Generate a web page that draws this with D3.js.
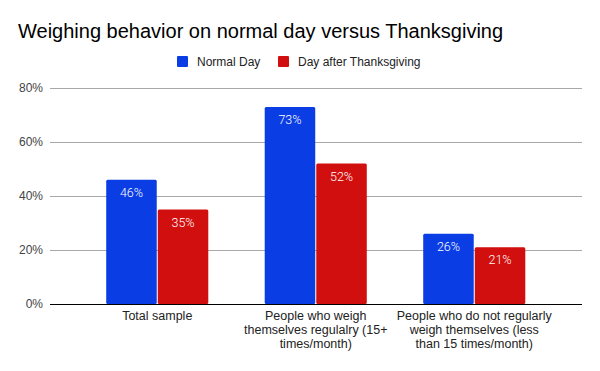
<!DOCTYPE html>
<html><head><meta charset="utf-8">
<script src="https://cdn.jsdelivr.net/npm/d3@7"></script>
<style>body{margin:0;background:#fff}svg{display:block;font-family:"Liberation Sans",Arial,sans-serif}</style>
</head><body><svg id="c" width="600" height="371"></svg>
<script>
const categories = [
  ["Total sample"],
  ["People who weigh", "themselves regulalry (15+", "times/month)"],
  ["People who do not regularly", "weigh themselves (less", "than 15 times/month)"]
];
const seriesNames = ["Normal Day", "Day after Thanksgiving"];
const normalDay = [46, 73, 26];
const dayAfter = [35, 52, 21];
const yTicks = [0, 20, 40, 60, 80];
const colors = ["#0b3de4", "#d10f0e"];

(function () {
const svg = d3.select("#c");
const pLeft = 50, pRight = 582, pTop = 88, pBottom = 304;
const y = d3.scaleLinear().domain([0, 80]).range([pBottom, pTop]);
const x0 = d3.scaleBand().domain(d3.range(categories.length)).range([78, 553.5]).paddingInner(0.356).paddingOuter(0.178);
const x1 = d3.scaleBand().domain([0, 1]).range([0, x0.bandwidth()]).paddingInner(0.02);

svg.append("text").attr("x", 18).attr("y", 38).attr("font-size", 20).attr("fill", "#000")
  .text("Weighing behavior on normal day versus Thanksgiving");

// legend
const leg = svg.append("g");
const legX = [177, 278];
seriesNames.forEach((n, i) => {
  leg.append("rect").attr("x", legX[i]).attr("y", 56).attr("width", 11).attr("height", 11).attr("rx", 1).attr("fill", colors[i]);
  leg.append("text").attr("x", legX[i] + 20).attr("y", 66).attr("font-size", 12).attr("fill", "#222").text(n);
});

// grid
const yAxis = d3.axisLeft(y).tickValues(yTicks).tickFormat(d => d + "%").tickSize(-(pRight - pLeft)).tickPadding(7);
const ga = svg.append("g").attr("transform", `translate(${pLeft},0)`).call(yAxis);
ga.select(".domain").remove();
ga.selectAll(".tick line").attr("stroke", "#a8a8a8").attr("stroke-width", 1);
ga.selectAll(".tick text").attr("font-size", 12).attr("fill", "#444").attr("font-family", "Liberation Sans, Arial, sans-serif");

// bars
const data = categories.map((c, i) => [normalDay[i], dayAfter[i]]);
const g = svg.append("g");
data.forEach((vals, i) => {
  vals.forEach((v, s) => {
    const bx = x0(i) + x1(s);
    g.append("rect").attr("x", bx).attr("y", y(v)).attr("width", x1.bandwidth()).attr("height", pBottom - y(v))
      .attr("rx", 1.5).attr("fill", colors[s]);
    g.append("text").attr("x", bx + x1.bandwidth() / 2).attr("y", y(v) + 17).attr("text-anchor", "middle")
      .attr("font-size", 12.5).attr("font-family", "Roboto, sans-serif").attr("font-weight", 300)
      .attr("fill", "#fff").text(v + "%");
  });
});

// baseline
svg.append("line").attr("x1", pLeft).attr("x2", pRight).attr("y1", pBottom + 0.5).attr("y2", pBottom + 0.5).attr("stroke", "#000");

// x labels
categories.forEach((lines, i) => {
  const cx = x0(i) + x0.bandwidth() / 2;
  lines.forEach((l, k) => {
    svg.append("text").attr("x", cx).attr("y", 320 + k * 14).attr("text-anchor", "middle")
      .attr("font-size", 12.5).attr("fill", "#222").text(l);
  });
});
})();
</script></body></html>
